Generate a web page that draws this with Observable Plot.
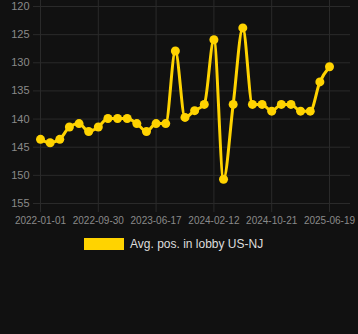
<!DOCTYPE html>
<html>
<head>
<meta charset="utf-8">
<script src="https://cdn.jsdelivr.net/npm/d3@7"></script>
<script src="https://cdn.jsdelivr.net/npm/@observablehq/plot@0.6"></script>
<style>
  html, body { margin: 0; padding: 0; background: #111111; }
  body { width: 358px; height: 334px; overflow: hidden; font-family: "Liberation Sans", Arial, Helvetica, sans-serif; }
  #chart svg { display: block; }
  .legend { display: flex; align-items: center; margin-top: 10px; margin-left: 84px; }
  .legend .sw { width: 40px; height: 12px; background: #FFD300; }
  .legend .lb { margin-left: 6px; color: #dddddd; font-size: 12px; line-height: 12px; }
</style>
</head>
<body>
<div id="chart"></div>
<div class="legend"><span class="sw"></span><span class="lb">Avg. pos. in lobby US-NJ</span></div>
<script>
const dates = [
  "2022-01-01","2022-02-15","2022-04-01","2022-05-16","2022-07-01","2022-08-15",
  "2022-09-30","2022-11-12","2022-12-25","2023-02-06","2023-03-21","2023-05-04",
  "2023-06-17","2023-07-27","2023-09-05","2023-10-15","2023-11-24","2024-01-03",
  "2024-02-12","2024-03-25","2024-05-06","2024-06-17","2024-07-29","2024-09-09",
  "2024-10-21","2024-11-30","2025-01-09","2025-02-18","2025-03-30","2025-05-10",
  "2025-06-19"
];
const positions = [
  143.6, 144.2, 143.6, 141.4, 140.8, 142.2,
  141.4, 139.9, 139.9, 139.9, 140.8, 142.2,
  140.8, 140.8, 127.9, 139.7, 138.5, 137.4,
  125.9, 150.7, 137.4, 123.8, 137.4, 137.4,
  138.6, 137.4, 137.4, 138.6, 138.6, 133.4,
  130.7
];
const xTickLabels = ["2022-01-01","2022-09-30","2023-06-17","2024-02-12","2024-10-21","2025-06-19"];
const yTicks = [120, 125, 130, 135, 140, 145, 150, 155];
const seriesName = "Avg. pos. in lobby US-NJ";

// category axis: each date sits at its own evenly spaced slot
const data = dates.map((d, i) => ({date: d, slot: i, pos: positions[i]}));
const xTickSlots = xTickLabels.map(d => dates.indexOf(d));
const gold = "#FFD300";
const grid = "#2a2a2a";

const chart = Plot.plot({
  width: 358,
  height: 228,
  marginTop: 0,
  marginLeft: 33,
  marginRight: 8,
  marginBottom: 16,
  style: {background: "#111111", color: "#8a8a8a", fontFamily: "'Liberation Sans', Arial, Helvetica, sans-serif"},
  x: {type: "linear", domain: [0, dates.length - 1], range: [40, 329]},
  y: {domain: [120, 155], range: [6, 203]},
  marks: [
    Plot.gridY(yTicks, {stroke: grid, strokeOpacity: 1, strokeWidth: 1}),
    Plot.gridX(xTickSlots, {stroke: grid, strokeOpacity: 1, strokeWidth: 1}),
    Plot.axisY(yTicks, {tickSize: 0, tickPadding: 4, fontSize: 11, fill: "#8a8a8a", label: null}),
    Plot.axisX(xTickSlots, {tickSize: 0, tickPadding: 4, fontSize: 10, fill: "#8a8a8a", label: null, tickFormat: i => dates[i]}),
    Plot.line(data, {x: "slot", y: "pos", stroke: gold, strokeWidth: 3, curve: "monotone-x"}),
    Plot.dot(data, {x: "slot", y: "pos", r: 4.5, fill: gold, stroke: "none"})
  ]
});
document.getElementById("chart").appendChild(chart);
</script>
</body>
</html>
